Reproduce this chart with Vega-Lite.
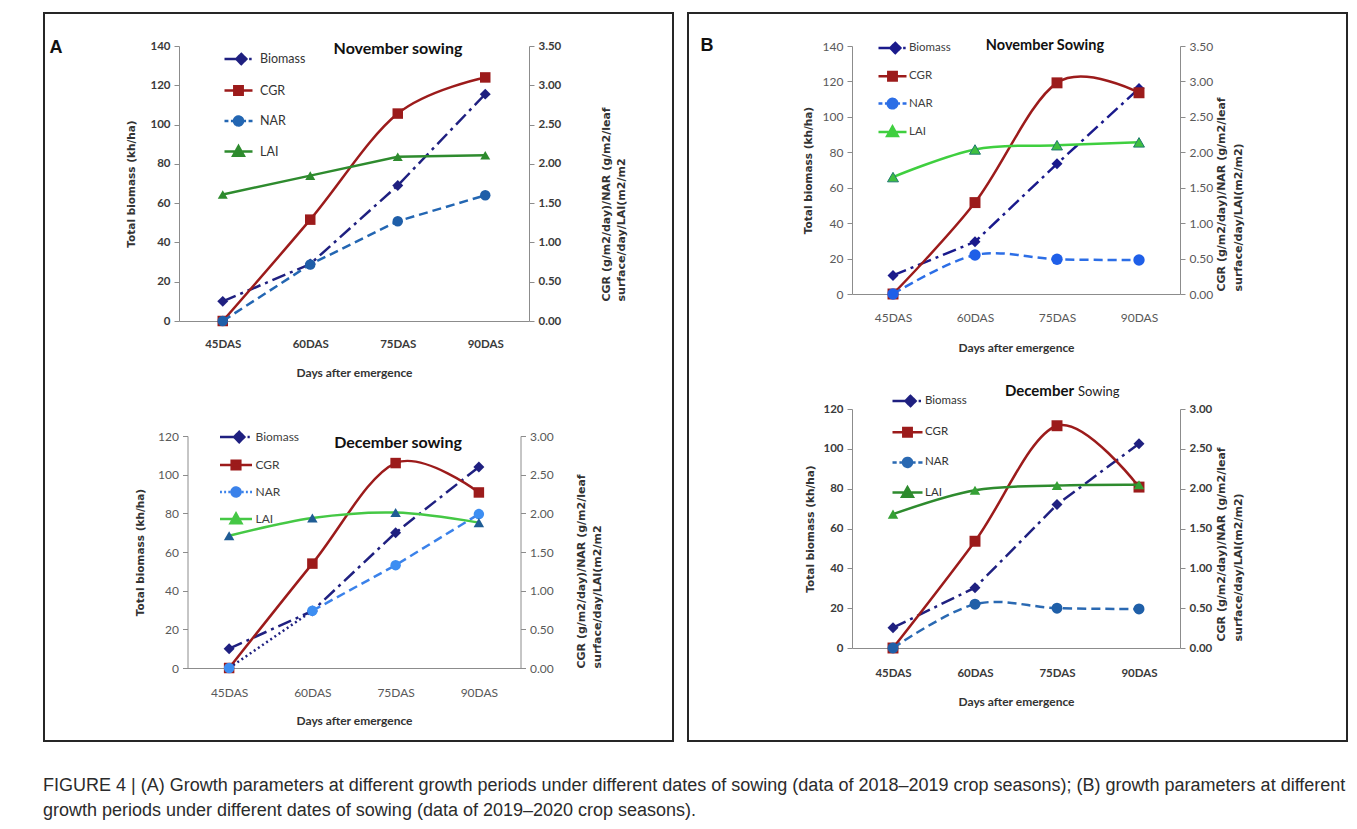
{
  "$schema": "https://vega.github.io/schema/vega-lite/v6.json",
  "padding": {"left": 42, "top": 11, "right": 11, "bottom": 8},
  "background": "white",
  "datasets": {
    "growth": [
      {"panel": "AN", "das": 45, "series": "Biomass", "value": 10},
      {"panel": "AN", "das": 60, "series": "Biomass", "value": 29},
      {"panel": "AN", "das": 75, "series": "Biomass", "value": 69},
      {"panel": "AN", "das": 90, "series": "Biomass", "value": 115.5},
      {"panel": "AN", "das": 45, "series": "CGR", "value": 0},
      {"panel": "AN", "das": 60, "series": "CGR", "value": 1.29},
      {"panel": "AN", "das": 75, "series": "CGR", "value": 2.64},
      {"panel": "AN", "das": 90, "series": "CGR", "value": 3.10},
      {"panel": "AN", "das": 45, "series": "NAR", "value": 0},
      {"panel": "AN", "das": 60, "series": "NAR", "value": 0.72},
      {"panel": "AN", "das": 75, "series": "NAR", "value": 1.27},
      {"panel": "AN", "das": 90, "series": "NAR", "value": 1.60},
      {"panel": "AN", "das": 45, "series": "LAI", "value": 1.61},
      {"panel": "AN", "das": 60, "series": "LAI", "value": 1.85},
      {"panel": "AN", "das": 75, "series": "LAI", "value": 2.09},
      {"panel": "AN", "das": 90, "series": "LAI", "value": 2.11},
      {"panel": "AD", "das": 45, "series": "Biomass", "value": 10},
      {"panel": "AD", "das": 60, "series": "Biomass", "value": 29.5},
      {"panel": "AD", "das": 75, "series": "Biomass", "value": 70},
      {"panel": "AD", "das": 90, "series": "Biomass", "value": 104},
      {"panel": "AD", "das": 45, "series": "CGR", "value": 0},
      {"panel": "AD", "das": 60, "series": "CGR", "value": 1.35},
      {"panel": "AD", "das": 75, "series": "CGR", "value": 2.65},
      {"panel": "AD", "das": 90, "series": "CGR", "value": 2.27},
      {"panel": "AD", "das": 45, "series": "NAR", "value": 0},
      {"panel": "AD", "das": 60, "series": "NAR", "value": 0.74},
      {"panel": "AD", "das": 75, "series": "NAR", "value": 1.33},
      {"panel": "AD", "das": 90, "series": "NAR", "value": 1.99},
      {"panel": "AD", "das": 45, "series": "LAI", "value": 1.71},
      {"panel": "AD", "das": 60, "series": "LAI", "value": 1.94},
      {"panel": "AD", "das": 75, "series": "LAI", "value": 2.01},
      {"panel": "AD", "das": 90, "series": "LAI", "value": 1.88},
      {"panel": "BN", "das": 45, "series": "Biomass", "value": 10.5},
      {"panel": "BN", "das": 60, "series": "Biomass", "value": 29.5},
      {"panel": "BN", "das": 75, "series": "Biomass", "value": 73.5},
      {"panel": "BN", "das": 90, "series": "Biomass", "value": 116},
      {"panel": "BN", "das": 45, "series": "CGR", "value": 0},
      {"panel": "BN", "das": 60, "series": "CGR", "value": 1.29},
      {"panel": "BN", "das": 75, "series": "CGR", "value": 2.98},
      {"panel": "BN", "das": 90, "series": "CGR", "value": 2.84},
      {"panel": "BN", "das": 45, "series": "NAR", "value": 0},
      {"panel": "BN", "das": 60, "series": "NAR", "value": 0.55},
      {"panel": "BN", "das": 75, "series": "NAR", "value": 0.49},
      {"panel": "BN", "das": 90, "series": "NAR", "value": 0.48},
      {"panel": "BN", "das": 45, "series": "LAI", "value": 1.65},
      {"panel": "BN", "das": 60, "series": "LAI", "value": 2.04},
      {"panel": "BN", "das": 75, "series": "LAI", "value": 2.10},
      {"panel": "BN", "das": 90, "series": "LAI", "value": 2.14},
      {"panel": "BD", "das": 45, "series": "Biomass", "value": 10.2},
      {"panel": "BD", "das": 60, "series": "Biomass", "value": 30.3},
      {"panel": "BD", "das": 75, "series": "Biomass", "value": 72},
      {"panel": "BD", "das": 90, "series": "Biomass", "value": 102.6},
      {"panel": "BD", "das": 45, "series": "CGR", "value": 0},
      {"panel": "BD", "das": 60, "series": "CGR", "value": 1.34},
      {"panel": "BD", "das": 75, "series": "CGR", "value": 2.79},
      {"panel": "BD", "das": 90, "series": "CGR", "value": 2.02},
      {"panel": "BD", "das": 45, "series": "NAR", "value": 0},
      {"panel": "BD", "das": 60, "series": "NAR", "value": 0.55},
      {"panel": "BD", "das": 75, "series": "NAR", "value": 0.50},
      {"panel": "BD", "das": 90, "series": "NAR", "value": 0.49},
      {"panel": "BD", "das": 45, "series": "LAI", "value": 1.68},
      {"panel": "BD", "das": 60, "series": "LAI", "value": 1.98},
      {"panel": "BD", "das": 75, "series": "LAI", "value": 2.04},
      {"panel": "BD", "das": 90, "series": "LAI", "value": 2.05}
    ]
  },
  "title": {
    "text": ["FIGURE 4 | (A) Growth parameters at different growth periods under different dates of sowing (data of 2018–2019 crop seasons); (B) growth parameters at different", "growth periods under different dates of sowing (data of 2019–2020 crop seasons)."],
    "orient": "bottom", "anchor": "start", "frame": "bounds", "offset": 35,
    "font": "Liberation Sans", "fontSize": 18, "fontWeight": "normal", "color": "#2b2b2b", "lineHeight": 25
  },
  "spacing": 12,
  "resolve": {"scale": {"color": "independent"}, "legend": {"color": "independent"}},
  "hconcat": [
    {
      "vconcat": [
        {
          "width": 350, "height": 275,
          "data": {"name": "growth"},
          "encoding": {
            "x": {"field": "das", "type": "quantitative", "scale": {"domain": [37.5, 97.5], "nice": false, "zero": false},
              "axis": {"values": [45, 60, 75, 90], "labelExpr": "datum.value + 'DAS'", "title": "Days after emergence", "ticks": false, "grid": false, "domainColor": "#8c8c8c", "labelFont": "Lato", "labelFontSize": 11.5, "labelFontWeight": "bold", "labelColor": "#3a3a3a", "labelPadding": 17, "titleFont": "Lato", "titleFontSize": 12, "titleFontWeight": "bold", "titleColor": "#333333", "titlePadding": 18}},
            "color": {"field": "series", "type": "nominal", "scale": {"domain": ["Biomass", "CGR", "NAR", "LAI"], "range": ["#1f2080", "#9c1b1b", "#2366b2", "#2e8b2e"]},
              "legend": {"orient": "none", "legendX": 44, "legendY": -2.5, "title": null, "padding": 0, "symbolSize": 784, "rowPadding": 5.5, "labelOffset": 6, "labelFont": "Lato", "labelFontSize": 12.5, "labelColor": "#333333", "symbolStrokeWidth": 2.5,
                "encode": {"symbols": {"update": {
                  "shape": {"signal": "datum.value === 'Biomass' ? 'M-1,0H0.2M0.2,-0.36L0.56,0L0.2,0.36L-0.16,0ZM0.76,0H0.94' : datum.value === 'CGR' ? 'M-1,0H1M-0.3,-0.3H0.3V0.3H-0.3Z' : datum.value === 'NAR' ? 'M-1,0H-0.72M-0.54,0H-0.3M0.3,0H0.54M0.72,0H1M-0.32,0A0.32,0.32,0,1,0,0.32,0A0.32,0.32,0,1,0,-0.32,0Z' : 'M-1,0H1M0,-0.38L0.38,0.3H-0.38Z'"},
                  "fill": {"signal": "datum.value === 'Biomass' ? '#1f2080' : datum.value === 'CGR' ? '#9c1b1b' : datum.value === 'NAR' ? '#1f5ea8' : '#2e8b2e'"},
                  "stroke": {"signal": "datum.value === 'Biomass' ? '#1f2080' : datum.value === 'CGR' ? '#9c1b1b' : datum.value === 'NAR' ? '#2366b2' : '#2e8b2e'"},
                  "strokeWidth": {"value": 2.5}, "strokeDash": {"value": [1, 0]}, "opacity": {"value": 1}, "fillOpacity": {"value": 1}, "strokeOpacity": {"value": 1}
                }}}}}
          },
          "layer": [
            {
              "encoding": {"y": {"field": "value", "type": "quantitative", "scale": {"domain": [0, 140], "nice": false},
                "axis": {"values": [0, 20, 40, 60, 80, 100, 120, 140], "format": "d", "title": "Total biomass (kh/ha)", "grid": false, "domainColor": "#8c8c8c", "tickColor": "#8c8c8c", "tickSize": 5, "labelFont": "Lato", "labelFontSize": 11.5, "labelFontWeight": "bold", "labelColor": "#3a3a3a", "labelPadding": 4, "titleFont": "DejaVu Sans", "titleFontSize": 10.5, "titleFontWeight": "bold", "titleColor": "#333333", "titlePadding": 13}}},
              "layer": [
                {"transform": [{"filter": "datum.panel === 'AN' && datum.das === 45 && datum.series === 'Biomass'"}], "mark": {"type": "rect", "filled": false, "strokeWidth": 2, "clip": false},
                  "encoding": {"x": {"datum": 14.357, "type": "quantitative"}, "x2": {"datum": 122.186}, "y": {"datum": 156.8, "type": "quantitative"}, "y2": {"datum": -213.82}, "color": {"value": "#262626"}}},
                {"transform": [{"filter": "datum.panel === 'AN' && datum.das === 45 && datum.series === 'Biomass'"}], "mark": {"type": "text", "text": "A", "font": "Liberation Sans", "fontSize": 18, "fontWeight": "bold", "align": "center", "baseline": "middle"},
                  "encoding": {"x": {"datum": 16.414, "type": "quantitative"}, "y": {"datum": 138.98, "type": "quantitative"}, "color": {"value": "#111111"}}},
                {"transform": [{"filter": "datum.panel === 'AN' && datum.das === 45 && datum.series === 'Biomass'"}], "mark": {"type": "text", "text": "November sowing", "font": "Lato", "fontSize": 16, "fontWeight": "bold", "align": "center", "baseline": "middle"},
                  "encoding": {"x": {"datum": 75.04, "type": "quantitative"}, "y": {"datum": 138.47, "type": "quantitative"}, "color": {"value": "#111111"}}},
                {"transform": [{"filter": "datum.panel === 'AN' && datum.series === 'Biomass'"}], "mark": {"type": "line", "strokeWidth": 2.5, "strokeDash": [14, 5, 3, 5]}},
                {"transform": [{"filter": "datum.panel === 'AN' && datum.series === 'Biomass'"}], "mark": {"type": "point", "filled": true, "shape": "diamond", "size": 120, "opacity": 1}}
              ]
            },
            {
              "encoding": {"y": {"field": "value", "type": "quantitative", "scale": {"domain": [0, 3.5], "nice": false},
                "axis": {"orient": "right", "values": [0, 0.5, 1, 1.5, 2, 2.5, 3, 3.5], "format": ".2f", "title": ["CGR (g/m2/day)/NAR (g/m2/leaf", "surface/day/LAI(m2/m2"], "grid": false, "domainColor": "#8c8c8c", "tickColor": "#8c8c8c", "tickSize": 5, "labelFont": "Lato", "labelFontSize": 11.5, "labelFontWeight": "bold", "labelColor": "#3a3a3a", "labelPadding": 4, "titleFont": "DejaVu Sans", "titleFontSize": 11, "titleFontWeight": "bold", "titleColor": "#333333", "titleAngle": 270, "titleAlign": "left", "titleBaseline": "top", "titleX": 71, "titleY": 255, "titleLineHeight": 15}}},
              "layer": [
                {"transform": [{"filter": "datum.panel === 'AN' && datum.series === 'CGR'"}], "mark": {"type": "line", "strokeWidth": 2.5, "interpolate": "cardinal", "tension": 0}},
                {"transform": [{"filter": "datum.panel === 'AN' && datum.series === 'CGR'"}], "mark": {"type": "point", "filled": true, "shape": "square", "size": 110, "opacity": 1}},
                {"transform": [{"filter": "datum.panel === 'AN' && datum.series === 'NAR'"}], "mark": {"type": "line", "strokeWidth": 2.5, "strokeDash": [9, 5]}},
                {"transform": [{"filter": "datum.panel === 'AN' && datum.series === 'NAR'"}], "mark": {"type": "point", "filled": true, "shape": "circle", "size": 110, "opacity": 1}, "encoding": {"color": {"value": "#1f5ea8"}}},
                {"transform": [{"filter": "datum.panel === 'AN' && datum.series === 'LAI'"}], "mark": {"type": "line", "strokeWidth": 2.5}},
                {"transform": [{"filter": "datum.panel === 'AN' && datum.series === 'LAI'"}], "mark": {"type": "point", "filled": true, "shape": "triangle-up", "size": 100, "opacity": 1}}
              ]
            }
          ],
          "resolve": {"scale": {"y": "independent"}}
        },
        {
          "width": 333, "height": 232,
          "data": {"name": "growth"},
          "encoding": {
            "x": {"field": "das", "type": "quantitative", "scale": {"domain": [37.5, 97.5], "nice": false, "zero": false},
              "axis": {"values": [45, 60, 75, 90], "labelExpr": "datum.value + 'DAS'", "title": "Days after emergence", "ticks": false, "grid": false, "domainColor": "#8c8c8c", "labelFont": "Lato", "labelFontSize": 12, "labelFontWeight": "normal", "labelColor": "#595959", "labelPadding": 19, "titleFont": "Lato", "titleFontSize": 12, "titleFontWeight": "bold", "titleColor": "#333333", "titlePadding": 17}},
            "color": {"field": "series", "type": "nominal", "scale": {"domain": ["Biomass", "CGR", "NAR", "LAI"], "range": ["#1f2080", "#9c1b1b", "#3b82ea", "#45c845"]},
              "legend": {"orient": "none", "legendX": 31, "legendY": -16.5, "title": null, "padding": 0, "symbolSize": 1024, "rowPadding": 0, "labelOffset": 2, "labelFont": "Lato", "labelFontSize": 12, "labelColor": "#404040", "symbolStrokeWidth": 2.5,
                "encode": {"symbols": {"update": {
                  "shape": {"signal": "datum.value === 'Biomass' ? 'M-1,0H0.2M0.2,-0.32L0.52,0L0.2,0.32L-0.12,0ZM0.72,0H0.86' : datum.value === 'CGR' ? 'M-1,0H1M-0.27,-0.27H0.27V0.27H-0.27Z' : datum.value === 'NAR' ? 'M-1,0H-0.88M-0.74,0H-0.62M-0.48,0H-0.36M0.36,0H0.48M0.62,0H0.74M0.88,0H1M-0.28,0A0.28,0.28,0,1,0,0.28,0A0.28,0.28,0,1,0,-0.28,0Z' : 'M-1,0H1M0,-0.34L0.34,0.27H-0.34Z'"},
                  "fill": {"signal": "datum.value === 'Biomass' ? '#1f2080' : datum.value === 'CGR' ? '#9c1b1b' : datum.value === 'NAR' ? '#3d8ef2' : '#1f5c94'"},
                  "stroke": {"signal": "datum.value === 'Biomass' ? '#1f2080' : datum.value === 'CGR' ? '#9c1b1b' : datum.value === 'NAR' ? '#1f2080' : '#45c845'"},
                  "strokeWidth": {"value": 2.5}, "strokeDash": {"value": [1, 0]}, "opacity": {"value": 1}, "fillOpacity": {"value": 1}, "strokeOpacity": {"value": 1}
                }}}}}
          },
          "layer": [
            {
              "encoding": {"y": {"field": "value", "type": "quantitative", "scale": {"domain": [0, 120], "nice": false},
                "axis": {"values": [0, 20, 40, 60, 80, 100, 120], "format": "d", "title": "Total biomass (kh/ha)", "grid": false, "domainColor": "#8c8c8c", "tickColor": "#8c8c8c", "tickSize": 5, "labelFont": "Lato", "labelFontSize": 12, "labelFontWeight": "normal", "labelColor": "#595959", "labelPadding": 4, "titleFont": "DejaVu Sans", "titleFontSize": 10.5, "titleFontWeight": "bold", "titleColor": "#333333", "titlePadding": 12}}},
              "layer": [
                {"transform": [{"filter": "datum.panel === 'AD' && datum.das === 45 && datum.series === 'Biomass'"}], "mark": {"type": "text", "text": "December sowing", "font": "Lato", "fontSize": 16, "fontWeight": "bold", "align": "center", "baseline": "middle"},
                  "encoding": {"x": {"datum": 75.43, "type": "quantitative"}, "y": {"datum": 116.4, "type": "quantitative"}, "color": {"value": "#111111"}}},
                {"transform": [{"filter": "datum.panel === 'AD' && datum.series === 'Biomass'"}], "mark": {"type": "line", "strokeWidth": 2.5, "strokeDash": [14, 5, 3, 5]}},
                {"transform": [{"filter": "datum.panel === 'AD' && datum.series === 'Biomass'"}], "mark": {"type": "point", "filled": true, "shape": "diamond", "size": 120, "opacity": 1}}
              ]
            },
            {
              "encoding": {"y": {"field": "value", "type": "quantitative", "scale": {"domain": [0, 3], "nice": false},
                "axis": {"orient": "right", "values": [0, 0.5, 1, 1.5, 2, 2.5, 3], "format": ".2f", "title": ["CGR (g/m2/day)/NAR (g/m2/leaf", "surface/day/LAI(m2/m2"], "grid": false, "domainColor": "#8c8c8c", "tickColor": "#8c8c8c", "tickSize": 5, "labelFont": "Lato", "labelFontSize": 12, "labelFontWeight": "normal", "labelColor": "#595959", "labelPadding": 4, "titleFont": "DejaVu Sans", "titleFontSize": 11, "titleFontWeight": "bold", "titleColor": "#333333", "titleAngle": 270, "titleAlign": "left", "titleBaseline": "top", "titleX": 55, "titleY": 232, "titleLineHeight": 16}}},
              "layer": [
                {"transform": [{"filter": "datum.panel === 'AD' && datum.series === 'CGR'"}], "mark": {"type": "line", "strokeWidth": 2.5, "interpolate": "cardinal", "tension": 0}},
                {"transform": [{"filter": "datum.panel === 'AD' && datum.series === 'CGR'"}], "mark": {"type": "point", "filled": true, "shape": "square", "size": 110, "opacity": 1}},
                {"transform": [{"filter": "datum.panel === 'AD' && datum.series === 'NAR' && datum.das <= 60"}], "mark": {"type": "line", "strokeWidth": 2.5, "strokeDash": [2, 3]}, "encoding": {"color": {"value": "#1f2080"}}},
                {"transform": [{"filter": "datum.panel === 'AD' && datum.series === 'NAR' && datum.das >= 60"}], "mark": {"type": "line", "strokeWidth": 2.5, "strokeDash": [9, 5]}},
                {"transform": [{"filter": "datum.panel === 'AD' && datum.series === 'NAR'"}], "mark": {"type": "point", "filled": true, "shape": "circle", "size": 110, "opacity": 1}, "encoding": {"color": {"value": "#3d8ef2"}}},
                {"transform": [{"filter": "datum.panel === 'AD' && datum.series === 'LAI'"}], "mark": {"type": "line", "strokeWidth": 2.5, "interpolate": "cardinal", "tension": 0}},
                {"transform": [{"filter": "datum.panel === 'AD' && datum.series === 'LAI'"}], "mark": {"type": "point", "filled": true, "shape": "triangle-up", "size": 110, "opacity": 1}, "encoding": {"color": {"value": "#1f5c94"}}}
              ]
            }
          ],
          "resolve": {"scale": {"y": "independent"}}
        }
      ],
      "spacing": 115, "center": true, "bounds": "flush",
      "resolve": {"scale": {"color": "independent"}, "legend": {"color": "independent"}}
    },
    {
      "vconcat": [
        {
          "width": 328, "height": 248,
          "data": {"name": "growth"},
          "encoding": {
            "x": {"field": "das", "type": "quantitative", "scale": {"domain": [37.5, 97.5], "nice": false, "zero": false},
              "axis": {"values": [45, 60, 75, 90], "labelExpr": "datum.value + 'DAS'", "title": "Days after emergence", "ticks": false, "grid": false, "domainColor": "#8c8c8c", "labelFont": "Lato", "labelFontSize": 12, "labelFontWeight": "normal", "labelColor": "#595959", "labelPadding": 18, "titleFont": "Lato", "titleFontSize": 12, "titleFontWeight": "bold", "titleColor": "#333333", "titlePadding": 19}},
            "color": {"field": "series", "type": "nominal", "scale": {"domain": ["Biomass", "CGR", "NAR", "LAI"], "range": ["#1a1a8c", "#9c1b1b", "#2c6ee6", "#3fcf3f"]},
              "legend": {"orient": "none", "legendX": 25, "legendY": -13.5, "title": null, "padding": 0, "symbolSize": 784, "rowPadding": 2.3, "labelOffset": 1, "labelFont": "Lato", "labelFontSize": 11.5, "labelColor": "#404040", "symbolStrokeWidth": 2.5,
                "encode": {"symbols": {"update": {
                  "shape": {"signal": "datum.value === 'Biomass' ? 'M-1,0H0.2M0.2,-0.36L0.56,0L0.2,0.36L-0.16,0ZM0.76,0H0.94' : datum.value === 'CGR' ? 'M-1,0H1M-0.3,-0.3H0.3V0.3H-0.3Z' : datum.value === 'NAR' ? 'M-1,0H-0.72M-0.54,0H-0.3M0.3,0H0.54M0.72,0H1M-0.34,0A0.34,0.34,0,1,0,0.34,0A0.34,0.34,0,1,0,-0.34,0Z' : 'M-1,0H1M0,-0.38L0.38,0.3H-0.38Z'"},
                  "fill": {"signal": "datum.value === 'Biomass' ? '#1a1a8c' : datum.value === 'CGR' ? '#9c1b1b' : datum.value === 'NAR' ? '#1f5fe8' : '#3fbf3f'"},
                  "stroke": {"signal": "datum.value === 'Biomass' ? '#1a1a8c' : datum.value === 'CGR' ? '#9c1b1b' : datum.value === 'NAR' ? '#2c6ee6' : '#3fcf3f'"},
                  "strokeWidth": {"value": 2.5}, "strokeDash": {"value": [1, 0]}, "opacity": {"value": 1}, "fillOpacity": {"value": 1}, "strokeOpacity": {"value": 1}
                }}}}}
          },
          "layer": [
            {
              "encoding": {"y": {"field": "value", "type": "quantitative", "scale": {"domain": [0, 140], "nice": false},
                "axis": {"values": [0, 20, 40, 60, 80, 100, 120, 140], "format": "d", "title": "Total biomass (kh/ha)", "grid": false, "domainColor": "#8c8c8c", "tickColor": "#8c8c8c", "tickSize": 5, "labelFont": "Lato", "labelFontSize": 12, "labelFontWeight": "normal", "labelColor": "#595959", "labelPadding": 4, "titleFont": "DejaVu Sans", "titleFontSize": 10.5, "titleFontWeight": "bold", "titleColor": "#333333", "titlePadding": 9}}},
              "layer": [
                {"transform": [{"filter": "datum.panel === 'BN' && datum.das === 45 && datum.series === 'Biomass'"}], "mark": {"type": "rect", "filled": false, "strokeWidth": 2, "clip": false},
                  "encoding": {"x": {"datum": 7.5, "type": "quantitative"}, "x2": {"datum": 128.05}, "y": {"datum": 158.63, "type": "quantitative"}, "y2": {"datum": -252.34}, "color": {"value": "#262626"}}},
                {"transform": [{"filter": "datum.panel === 'BN' && datum.das === 45 && datum.series === 'Biomass'"}], "mark": {"type": "text", "text": "B", "font": "Liberation Sans", "fontSize": 18, "fontWeight": "bold", "align": "center", "baseline": "middle"},
                  "encoding": {"x": {"datum": 10.98, "type": "quantitative"}, "y": {"datum": 140, "type": "quantitative"}, "color": {"value": "#111111"}}},
                {"transform": [{"filter": "datum.panel === 'BN' && datum.das === 45 && datum.series === 'Biomass'"}], "mark": {"type": "text", "text": "November Sowing", "font": "Lato", "fontSize": 14.5, "fontWeight": "bold", "align": "center", "baseline": "middle"},
                  "encoding": {"x": {"datum": 72.8, "type": "quantitative"}, "y": {"datum": 140, "type": "quantitative"}, "color": {"value": "#111111"}}},
                {"transform": [{"filter": "datum.panel === 'BN' && datum.series === 'Biomass'"}], "mark": {"type": "line", "strokeWidth": 2.5, "strokeDash": [14, 5, 3, 5]}},
                {"transform": [{"filter": "datum.panel === 'BN' && datum.series === 'Biomass'"}], "mark": {"type": "point", "filled": true, "shape": "diamond", "size": 120, "opacity": 1}}
              ]
            },
            {
              "encoding": {"y": {"field": "value", "type": "quantitative", "scale": {"domain": [0, 3.5], "nice": false},
                "axis": {"orient": "right", "values": [0, 0.5, 1, 1.5, 2, 2.5, 3, 3.5], "format": ".2f", "title": ["CGR (g/m2/day)/NAR (g/m2/leaf", "surface/day/LAI(m2/m2)"], "grid": false, "domainColor": "#8c8c8c", "tickColor": "#8c8c8c", "tickSize": 5, "labelFont": "Lato", "labelFontSize": 12, "labelFontWeight": "normal", "labelColor": "#595959", "labelPadding": 4, "titleFont": "DejaVu Sans", "titleFontSize": 11, "titleFontWeight": "bold", "titleColor": "#333333", "titleAngle": 270, "titleAlign": "left", "titleBaseline": "top", "titleX": 35, "titleY": 245, "titleLineHeight": 17}}},
              "layer": [
                {"transform": [{"filter": "datum.panel === 'BN' && datum.series === 'CGR'"}], "mark": {"type": "line", "strokeWidth": 2.5, "interpolate": "cardinal", "tension": 0}},
                {"transform": [{"filter": "datum.panel === 'BN' && datum.series === 'CGR'"}], "mark": {"type": "point", "filled": true, "shape": "square", "size": 120, "opacity": 1}},
                {"transform": [{"filter": "datum.panel === 'BN' && datum.series === 'NAR'"}], "mark": {"type": "line", "strokeWidth": 2.5, "strokeDash": [9, 5], "interpolate": "cardinal", "tension": 0}},
                {"transform": [{"filter": "datum.panel === 'BN' && datum.series === 'NAR'"}], "mark": {"type": "point", "filled": true, "shape": "circle", "size": 130, "opacity": 1}, "encoding": {"color": {"value": "#1f5fe8"}}},
                {"transform": [{"filter": "datum.panel === 'BN' && datum.series === 'LAI'"}], "mark": {"type": "line", "strokeWidth": 2.5, "interpolate": "cardinal", "tension": 0}},
                {"transform": [{"filter": "datum.panel === 'BN' && datum.series === 'LAI'"}], "mark": {"type": "point", "filled": true, "shape": "triangle-up", "size": 120, "opacity": 1, "stroke": "#1f7a70", "strokeWidth": 1}, "encoding": {"color": {"value": "#3fbf3f"}}}
              ]
            }
          ],
          "resolve": {"scale": {"y": "independent"}}
        },
        {
          "width": 328, "height": 239,
          "data": {"name": "growth"},
          "encoding": {
            "x": {"field": "das", "type": "quantitative", "scale": {"domain": [37.5, 97.5], "nice": false, "zero": false},
              "axis": {"values": [45, 60, 75, 90], "labelExpr": "datum.value + 'DAS'", "title": "Days after emergence", "ticks": false, "grid": false, "domainColor": "#8c8c8c", "labelFont": "Lato", "labelFontSize": 11.5, "labelFontWeight": "bold", "labelColor": "#3a3a3a", "labelPadding": 19, "titleFont": "Lato", "titleFontSize": 12, "titleFontWeight": "bold", "titleColor": "#333333", "titlePadding": 18}},
            "color": {"field": "series", "type": "nominal", "scale": {"domain": ["Biomass", "CGR", "NAR", "LAI"], "range": ["#1f2080", "#9c1b1b", "#2a69b2", "#2e8b2e"]},
              "legend": {"orient": "none", "legendX": 39, "legendY": -24.5, "title": null, "padding": 0, "symbolSize": 900, "rowPadding": 4.2, "labelOffset": 1, "labelFont": "Lato", "labelFontSize": 11.5, "labelColor": "#333333", "symbolStrokeWidth": 2.5,
                "encode": {"symbols": {"update": {
                  "shape": {"signal": "datum.value === 'Biomass' ? 'M-1,0H0.2M0.2,-0.34L0.54,0L0.2,0.34L-0.14,0ZM0.74,0H0.9' : datum.value === 'CGR' ? 'M-1,0H1M-0.28,-0.28H0.28V0.28H-0.28Z' : datum.value === 'NAR' ? 'M-1,0H-0.72M-0.54,0H-0.3M0.3,0H0.54M0.72,0H1M-0.3,0A0.3,0.3,0,1,0,0.3,0A0.3,0.3,0,1,0,-0.3,0Z' : 'M-1,0H1M0,-0.36L0.36,0.28H-0.36Z'"},
                  "fill": {"signal": "datum.value === 'Biomass' ? '#1f2080' : datum.value === 'CGR' ? '#9c1b1b' : datum.value === 'NAR' ? '#1f5fa8' : '#35a035'"},
                  "stroke": {"signal": "datum.value === 'Biomass' ? '#1f2080' : datum.value === 'CGR' ? '#9c1b1b' : datum.value === 'NAR' ? '#2a69b2' : '#2e8b2e'"},
                  "strokeWidth": {"value": 2.5}, "strokeDash": {"value": [1, 0]}, "opacity": {"value": 1}, "fillOpacity": {"value": 1}, "strokeOpacity": {"value": 1}
                }}}}}
          },
          "layer": [
            {
              "encoding": {"y": {"field": "value", "type": "quantitative", "scale": {"domain": [0, 120], "nice": false},
                "axis": {"values": [0, 20, 40, 60, 80, 100, 120], "format": "d", "title": "Total biomass (kh/ha)", "grid": false, "domainColor": "#8c8c8c", "tickColor": "#8c8c8c", "tickSize": 5, "labelFont": "Lato", "labelFontSize": 11.5, "labelFontWeight": "bold", "labelColor": "#3a3a3a", "labelPadding": 4, "titleFont": "DejaVu Sans", "titleFontSize": 10.5, "titleFontWeight": "bold", "titleColor": "#333333", "titlePadding": 7}}},
              "layer": [
                {"transform": [{"filter": "datum.panel === 'BD' && datum.das === 45 && datum.series === 'Biomass'"}], "mark": {"type": "text", "text": "December", "font": "Lato", "fontSize": 15, "fontWeight": "bold", "align": "right", "baseline": "middle"},
                  "encoding": {"x": {"datum": 78.11, "type": "quantitative"}, "y": {"datum": 129.04, "type": "quantitative"}, "color": {"value": "#111111"}}},
                {"transform": [{"filter": "datum.panel === 'BD' && datum.das === 45 && datum.series === 'Biomass'"}], "mark": {"type": "text", "text": "Sowing", "font": "Lato", "fontSize": 13, "fontWeight": "normal", "align": "left", "baseline": "middle", "dy": 1},
                  "encoding": {"x": {"datum": 78.84, "type": "quantitative"}, "y": {"datum": 129.04, "type": "quantitative"}, "color": {"value": "#222222"}}},
                {"transform": [{"filter": "datum.panel === 'BD' && datum.series === 'Biomass'"}], "mark": {"type": "line", "strokeWidth": 2.5, "strokeDash": [14, 5, 3, 5]}},
                {"transform": [{"filter": "datum.panel === 'BD' && datum.series === 'Biomass'"}], "mark": {"type": "point", "filled": true, "shape": "diamond", "size": 120, "opacity": 1}}
              ]
            },
            {
              "encoding": {"y": {"field": "value", "type": "quantitative", "scale": {"domain": [0, 3], "nice": false},
                "axis": {"orient": "right", "values": [0, 0.5, 1, 1.5, 2, 2.5, 3], "format": ".2f", "title": ["CGR (g/m2/day)/NAR (g/m2/leaf", "surface/day/LAI(m2/m2)"], "grid": false, "domainColor": "#8c8c8c", "tickColor": "#8c8c8c", "tickSize": 5, "labelFont": "Lato", "labelFontSize": 11.5, "labelFontWeight": "bold", "labelColor": "#3a3a3a", "labelPadding": 4, "titleFont": "DejaVu Sans", "titleFontSize": 11, "titleFontWeight": "bold", "titleColor": "#333333", "titleAngle": 270, "titleAlign": "left", "titleBaseline": "top", "titleX": 35, "titleY": 232, "titleLineHeight": 17}}},
              "layer": [
                {"transform": [{"filter": "datum.panel === 'BD' && datum.series === 'CGR'"}], "mark": {"type": "line", "strokeWidth": 2.5, "interpolate": "cardinal", "tension": 0}},
                {"transform": [{"filter": "datum.panel === 'BD' && datum.series === 'CGR'"}], "mark": {"type": "point", "filled": true, "shape": "square", "size": 120, "opacity": 1}},
                {"transform": [{"filter": "datum.panel === 'BD' && datum.series === 'NAR'"}], "mark": {"type": "line", "strokeWidth": 2.5, "strokeDash": [9, 5], "interpolate": "cardinal", "tension": 0}},
                {"transform": [{"filter": "datum.panel === 'BD' && datum.series === 'NAR'"}], "mark": {"type": "point", "filled": true, "shape": "circle", "size": 120, "opacity": 1}, "encoding": {"color": {"value": "#1f5fa8"}}},
                {"transform": [{"filter": "datum.panel === 'BD' && datum.series === 'LAI'"}], "mark": {"type": "line", "strokeWidth": 2.5, "interpolate": "cardinal", "tension": 0}},
                {"transform": [{"filter": "datum.panel === 'BD' && datum.series === 'LAI'"}], "mark": {"type": "point", "filled": true, "shape": "triangle-up", "size": 110, "opacity": 1}, "encoding": {"color": {"value": "#35a035"}}}
              ]
            }
          ],
          "resolve": {"scale": {"y": "independent"}}
        }
      ],
      "spacing": 115, "center": true, "bounds": "flush",
      "resolve": {"scale": {"color": "independent"}, "legend": {"color": "independent"}}
    }
  ],
  "config": {"view": {"stroke": null}, "axis": {"grid": false}}
}
